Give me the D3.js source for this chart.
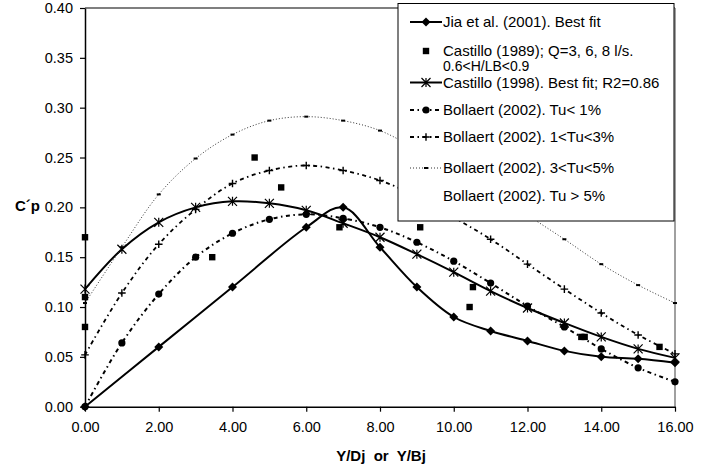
<!DOCTYPE html>
<html>
<head>
<meta charset="utf-8">
<script src="https://cdn.jsdelivr.net/npm/d3@7"></script>
<style>
  html, body { margin: 0; padding: 0; background: #fff; }
  svg { display: block; font-family: "Liberation Sans", Arial, sans-serif; }
</style>
</head>
<body>
<svg id="chart" width="710" height="469"></svg>
<script>
// Pressure fluctuation coefficient C'p against distance from the jet axis
const xSteps = [0, 1, 2, 3, 4, 5, 6, 7, 8, 9, 10, 11, 12, 13, 14, 15, 16];

const jiaX = [0, 2, 4, 6, 7, 8, 9, 10, 11, 12, 13, 14, 15, 16];
const jiaY = [0.000, 0.060, 0.120, 0.180, 0.200, 0.160, 0.120, 0.090, 0.076, 0.066, 0.056, 0.050, 0.048, 0.044];

const castillo89X = [0, 0, 0, 3.45, 4.6, 5.32, 6.9, 9.09, 10.52, 10.43, 13.46, 13.55, 15.58];
const castillo89Y = [0.170, 0.110, 0.080, 0.150, 0.250, 0.220, 0.180, 0.180, 0.120, 0.100, 0.070, 0.070, 0.060];

const castillo98Y = [0.118, 0.158, 0.185, 0.200, 0.206, 0.204, 0.197, 0.184, 0.170, 0.153, 0.135, 0.116, 0.099, 0.084, 0.070, 0.058, 0.049];

const bollaertLowY = [0.000, 0.064, 0.113, 0.150, 0.174, 0.188, 0.193, 0.189, 0.180, 0.165, 0.146, 0.124, 0.101, 0.080, 0.058, 0.039, 0.025];
const bollaertMidY = [0.052, 0.114, 0.163, 0.198, 0.224, 0.237, 0.242, 0.237, 0.227, 0.211, 0.190, 0.168, 0.143, 0.118, 0.094, 0.072, 0.053];
const bollaertHighY = [0.104, 0.160, 0.213, 0.249, 0.273, 0.287, 0.291, 0.287, 0.277, 0.258, 0.237, 0.215, 0.192, 0.168, 0.143, 0.122, 0.104];

const xTicks = [0, 2, 4, 6, 8, 10, 12, 14, 16];
const yTicks = [0, 0.05, 0.10, 0.15, 0.20, 0.25, 0.30, 0.35, 0.40];

const legendLabels = [
  "Jia et al. (2001). Best fit",
  "Castillo (1989); Q=3, 6, 8 l/s.",
  "0.6<H/LB<0.9",
  "Castillo (1998). Best fit; R2=0.86",
  "Bollaert (2002). Tu< 1%",
  "Bollaert (2002). 1<Tu<3%",
  "Bollaert (2002). 3<Tu<5%",
  "Bollaert (2002). Tu > 5%"
];

const svg = d3.select("#chart");
const x = d3.scaleLinear().domain([0, 16]).range([85, 675]);
const y = d3.scaleLinear().domain([0, 0.4]).range([406.7, 8]);

// plot-area frame: top edge dark, right edge grey
svg.append("line").attr("x1", x(0)).attr("x2", x(16)).attr("y1", y(0.4)).attr("y2", y(0.4))
  .attr("stroke", "#000").attr("stroke-width", 1.2);
svg.append("line").attr("x1", x(16)).attr("x2", x(16)).attr("y1", y(0.4)).attr("y2", y(0))
  .attr("stroke", "#808080").attr("stroke-width", 1.5);

// axes
const yAxis = svg.append("g").attr("transform", `translate(${x(0)},0)`)
  .call(d3.axisLeft(y).tickValues(yTicks).tickFormat(d3.format(".2f")).tickSize(5).tickSizeOuter(0).tickPadding(7));
const xAxis = svg.append("g").attr("transform", `translate(0,${y(0)})`)
  .call(d3.axisBottom(x).tickValues(xTicks).tickFormat(d3.format(".2f")).tickSize(5).tickSizeOuter(0).tickPadding(10));
[yAxis, xAxis].forEach(g => {
  g.select(".domain").attr("stroke", "#000").attr("stroke-width", 1.5);
  g.selectAll(".tick line").attr("stroke", "#000").attr("stroke-width", 1.2);
  g.selectAll(".tick text").attr("fill", "#000").style("font-size", "14.5px")
    .style("font-family", "'Liberation Sans', Arial, sans-serif");
});

// axis titles
svg.append("text").attr("x", 381).attr("y", 461).attr("text-anchor", "middle")
  .style("font-weight", "bold").style("font-size", "15px").style("white-space", "pre")
  .text("Y/Dj  or  Y/Bj");
svg.append("text").attr("x", 15).attr("y", 211)
  .style("font-weight", "bold").style("font-size", "15px")
  .text("C\u00B4p");

// marker painters
function diamond(g, cx, cy) {
  g.append("path").attr("d", `M${cx},${cy - 4.5}L${cx + 4.5},${cy}L${cx},${cy + 4.5}L${cx - 4.5},${cy}Z`).attr("fill", "#000");
}
function square(g, cx, cy) {
  g.append("rect").attr("x", cx - 3.2).attr("y", cy - 3.2).attr("width", 6.4).attr("height", 6.4).attr("fill", "#000");
}
function asterisk(g, cx, cy) {
  const r = 4.5;
  g.append("path").attr("d",
    `M${cx - r},${cy - r}L${cx + r},${cy + r}M${cx - r},${cy + r}L${cx + r},${cy - r}M${cx},${cy - r}L${cx},${cy + r}`)
    .attr("stroke", "#000").attr("stroke-width", 1.2).attr("fill", "none");
}
function circle(g, cx, cy) {
  g.append("circle").attr("cx", cx).attr("cy", cy).attr("r", 3.6).attr("fill", "#000");
}
function plus(g, cx, cy) {
  const r = 3.8;
  g.append("path").attr("d", `M${cx - r},${cy}L${cx + r},${cy}M${cx},${cy - r}L${cx},${cy + r}`)
    .attr("stroke", "#000").attr("stroke-width", 1.4).attr("fill", "none");
}
function dash(g, cx, cy) {
  g.append("rect").attr("x", cx - 2).attr("y", cy - 1).attr("width", 4).attr("height", 2).attr("fill", "#000");
}

const smooth = d3.line().x(d => x(d[0])).y(d => y(d[1])).curve(d3.curveCatmullRom.alpha(0.5));

const series = [
  { xs: jiaX, ys: jiaY, width: 2, dashArr: null, color: "#000", marker: diamond },
  { xs: castillo89X, ys: castillo89Y, line: false, marker: square },
  { xs: xSteps, ys: castillo98Y, width: 2, dashArr: null, color: "#000", marker: asterisk },
  { xs: xSteps, ys: bollaertLowY, width: 2, dashArr: "4,3.5,1.5,3.5", color: "#000", marker: circle },
  { xs: xSteps, ys: bollaertMidY, width: 1.8, dashArr: "4,3.5,1.5,3.5", color: "#000", marker: plus },
  { xs: xSteps, ys: bollaertHighY, width: 1, dashArr: "1,2", color: "#333", marker: dash }
];

const plot = svg.append("g");
series.forEach(s => {
  const pts = s.xs.map((v, i) => [v, s.ys[i]]);
  if (s.line !== false) {
    plot.append("path").attr("d", smooth(pts)).attr("fill", "none")
      .attr("stroke", s.color).attr("stroke-width", s.width)
      .attr("stroke-dasharray", s.dashArr);
  }
  const mg = plot.append("g");
  pts.forEach(p => s.marker(mg, x(p[0]), y(p[1])));
});

// legend
const leg = svg.append("g");
leg.append("rect").attr("x", 398).attr("y", 3.5).attr("width", 276).attr("height", 217.5)
  .attr("fill", "#fff").attr("stroke", "#000").attr("stroke-width", 1);

const legRows = [
  { label: legendLabels[0], cy: 22, kind: 0, size: 15 },
  { label: legendLabels[1], cy: 51, kind: 1, size: 15 },
  { label: legendLabels[2], cy: 66.5, kind: -1, size: 14 },
  { label: legendLabels[3], cy: 82.5, kind: 2, size: 15 },
  { label: legendLabels[4], cy: 110, kind: 3, size: 15 },
  { label: legendLabels[5], cy: 137, kind: 4, size: 15 },
  { label: legendLabels[6], cy: 168, kind: 5, size: 15 },
  { label: legendLabels[7], cy: 196, kind: -1, size: 15 }
];
legRows.forEach(r => {
  if (r.kind >= 0) {
    const s = series[r.kind];
    if (s.line !== false) {
      leg.append("line").attr("x1", 410).attr("x2", 442).attr("y1", r.cy).attr("y2", r.cy)
        .attr("stroke", s.color).attr("stroke-width", s.width).attr("stroke-dasharray", s.dashArr);
    }
    s.marker(leg, 426, r.cy);
  }
  leg.append("text").attr("x", 443).attr("y", r.cy + r.size * 0.35)
    .style("font-size", r.size + "px").attr("fill", "#000").text(r.label);
});
</script>
</body>
</html>
